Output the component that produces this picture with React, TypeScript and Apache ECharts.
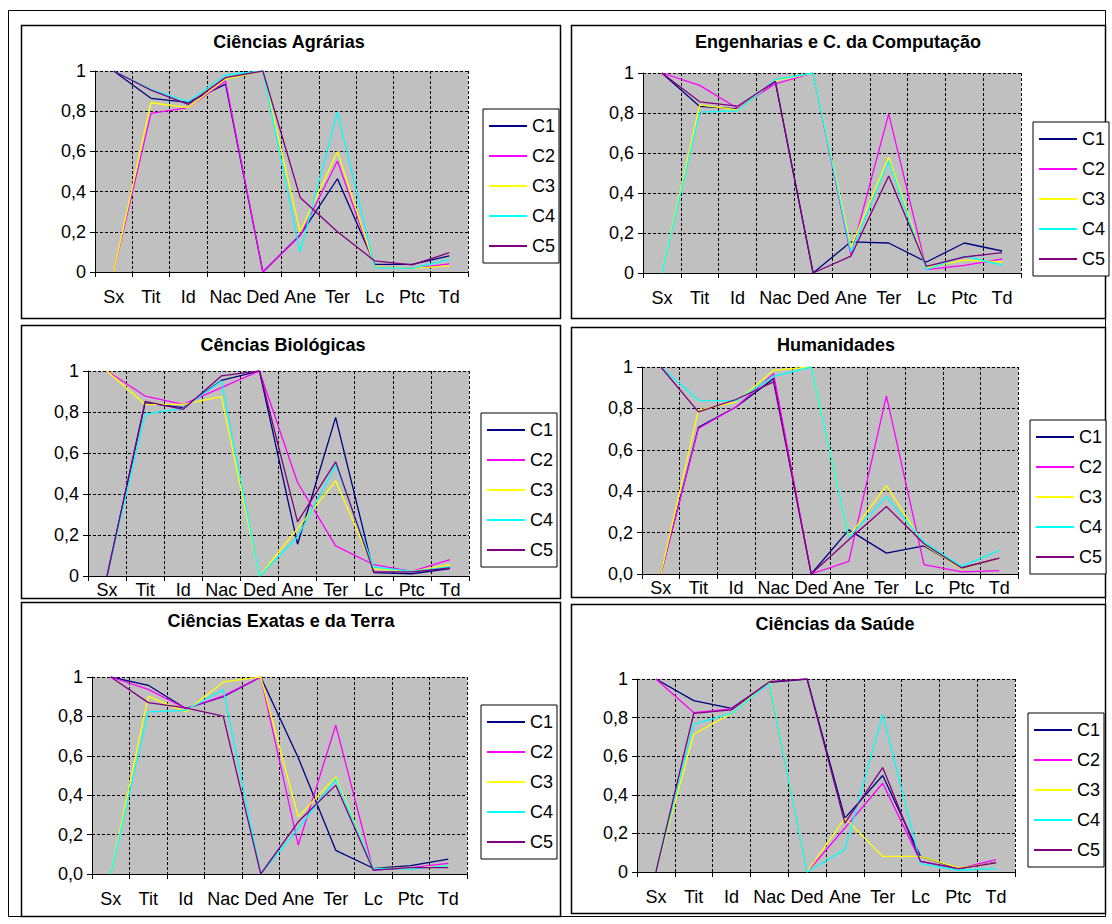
import React, { useEffect, useRef } from "react";
import * as echarts from "echarts";

const categories = ["Sx", "Tit", "Id", "Nac", "Ded", "Ane", "Ter", "Lc", "Ptc", "Td"];
const seriesNames = ["C1", "C2", "C3", "C4", "C5"];
const colors = ["#000080", "#FF00FF", "#FFFF00", "#00FFFF", "#800080"];

const titles = [
  "Ciências Agrárias",
  "Engenharias e C. da Computação",
  "Cências Biológicas",
  "Humanidades",
  "Ciências Exatas e da Terra",
  "Ciências da Saúde",
];
const zeroLabels = ["0", "0", "0", "0,0", "0,0", "0"];

// Ciências Agrárias: C1..C5
const agrarias = [
  [1, 0.864, 0.844, 0.935, 0, 0.184, 0.464, 0.038, 0.038, 0.08],
  [0, 0.789, 0.818, 0.95, 0, 0.18, 0.552, 0.027, 0.018, 0.04],
  [0, 0.842, 0.818, 0.96, 1, 0.2, 0.599, 0.027, 0.018, 0.03],
  [1, 0.909, 0.847, 0.98, 1, 0.1, 0.797, 0.022, 0.018, 0.063],
  [1, 0.905, 0.834, 0.967, 1, 0.371, 0.2, 0.055, 0.035, 0.096],
];
// Engenharias e C. da Computação
const engenharias = [
  [1, 0.833, 0.821, 0.958, 0, 0.156, 0.15, 0.055, 0.15, 0.11],
  [1, 0.938, 0.824, 0.946, 1, 0.089, 0.796, 0.017, 0.038, 0.07],
  [0, 0.841, 0.816, 0.962, 1, 0.13, 0.579, 0.027, 0.064, 0.055],
  [0, 0.804, 0.811, 0.967, 1, 0.105, 0.56, 0.017, 0.084, 0.04],
  [1, 0.856, 0.834, 0.958, 0, 0.084, 0.485, 0.033, 0.08, 0.102],
];
// Cências Biológicas
const biologicas = [
  [0, 0.845, 0.821, 0.954, 1, 0.155, 0.774, 0.016, 0.011, 0.036],
  [1, 0.878, 0.837, 0.919, 1, 0.456, 0.147, 0.055, 0.023, 0.08],
  [1, 0.837, 0.837, 0.875, 0, 0.231, 0.464, 0.036, 0.023, 0.055],
  [0, 0.79, 0.818, 0.951, 0, 0.19, 0.541, 0.044, 0.023, 0.044],
  [0, 0.852, 0.813, 0.976, 1, 0.264, 0.557, 0.02, 0.02, 0.039],
];
// Humanidades
const humanidades = [
  [0, 0.708, 0.807, 0.944, 0, 0.213, 0.101, 0.136, 0.029, 0.077],
  [0, 0.703, 0.807, 0.968, 0, 0.061, 0.86, 0.045, 0.01, 0.016],
  [0, 0.791, 0.831, 0.984, 1, 0.181, 0.427, 0.141, 0.026, 0.077],
  [1, 0.839, 0.836, 0.955, 1, 0.177, 0.374, 0.154, 0.037, 0.114],
  [1, 0.783, 0.843, 0.928, 0, 0.165, 0.326, 0.146, 0.029, 0.077],
];
// Ciências Exatas e da Terra
const exatas = [
  [1, 0.958, 0.84, 0.9, 1, 0.59, 0.12, 0.029, 0.042, 0.076],
  [1, 0.937, 0.84, 0.904, 1, 0.147, 0.755, 0.02, 0.032, 0.054],
  [0, 0.902, 0.823, 0.975, 1, 0.29, 0.493, 0.029, 0.029, 0.042],
  [0, 0.823, 0.831, 0.936, 0, 0.231, 0.481, 0.029, 0.025, 0.042],
  [1, 0.87, 0.843, 0.801, 0, 0.265, 0.451, 0.02, 0.032, 0.032],
];
// Ciências da Saúde
const saude = [
  [1, 0.888, 0.848, 0.983, 1, 0.279, 0.5, 0.081, 0.017, 0.05],
  [1, 0.826, 0.845, 0.983, 0, 0.228, 0.46, 0.055, 0.017, 0.064],
  [0, 0.714, 0.822, 0.99, 0, 0.279, 0.081, 0.081, 0.021, 0.047],
  [0, 0.766, 0.822, 0.978, 0, 0.116, 0.817, 0.043, 0.009, 0.017],
  [0, 0.822, 0.84, 0.986, 1, 0.253, 0.541, 0.055, 0.017, 0.047],
];

const panelData = [agrarias, engenharias, biologicas, humanidades, exatas, saude];

// layout (pixels)
const gridLayout = [
  [95, 71, 373, 201],
  [643, 73, 378, 200],
  [88, 371, 381, 205],
  [642, 367, 376, 207],
  [92, 677, 375, 197],
  [637, 679, 378, 193],
];
const xLabelMargin = [16, 16, 5, 5, 16, 16];
const legendLayout = [
  [483, 109],
  [1033, 122],
  [481, 413],
  [1030, 420],
  [481, 705],
  [1028, 713],
];
const titleLayout = [
  [289, 42],
  [838, 42],
  [283, 345],
  [836, 345],
  [281, 621],
  [835, 624],
];
const panelBoxes = [
  [21, 25, 539, 293],
  [571, 25, 534, 293],
  [21, 325, 539, 273],
  [571, 327, 534, 270],
  [21, 602, 539, 314],
  [571, 604, 534, 309],
];

const FONT = "'Liberation Sans', Arial, Helvetica, sans-serif";
const FS = 18;

export default function App() {
  const ref = useRef<HTMLDivElement>(null);
  useEffect(() => {
    if (!ref.current) return;
    const chart = echarts.init(ref.current, undefined, { renderer: "svg" });
    const dash = [3, 2];
    const grid = gridLayout.map((g) => ({
      left: g[0],
      top: g[1],
      width: g[2],
      height: g[3],
      show: true,
      backgroundColor: "#C0C0C0",
      borderWidth: 0,
    }));
    const xAxis = gridLayout.map((_, i) => ({
      type: "category",
      gridIndex: i,
      data: categories,
      boundaryGap: true,
      axisLine: { show: true, lineStyle: { color: "#000", width: 1 } },
      axisTick: { show: true, length: 5, lineStyle: { color: "#000" } },
      axisLabel: { interval: 0, color: "#000", fontSize: FS, fontFamily: FONT, margin: xLabelMargin[i] },
      splitLine: { show: true, interval: 0, lineStyle: { color: "#000", type: dash, width: 1 } },
    }));
    const yAxis = gridLayout.map((_, i) => ({
      type: "value",
      gridIndex: i,
      min: 0,
      max: 1,
      interval: 0.2,
      axisLine: { show: true, lineStyle: { color: "#000", width: 1 } },
      axisTick: { show: true, length: 5, lineStyle: { color: "#000" } },
      axisLabel: {
        color: "#000",
        fontSize: FS,
        fontFamily: FONT,
        margin: 9,
        formatter: (v: number) => {
          if (Math.abs(v) < 1e-9) return zeroLabels[i];
          if (Math.abs(v - 1) < 1e-9) return "1";
          return v.toFixed(1).replace(".", ",");
        },
      },
      splitLine: { show: true, lineStyle: { color: "#000", type: dash, width: 1 } },
    }));
    const series: any[] = [];
    panelData.forEach((panel, i) => {
      panel.forEach((vals, c) => {
        series.push({
          type: "line",
          name: seriesNames[c],
          xAxisIndex: i,
          yAxisIndex: i,
          data: vals,
          symbol: "none",
          showSymbol: false,
          silent: true,
          lineStyle: { color: colors[c], width: 1.3 },
          itemStyle: { color: colors[c] },
        });
      });
    });
    const legend = legendLayout.map((l) => ({
      data: seriesNames,
      left: l[0],
      top: l[1],
      orient: "vertical",
      icon: "rect",
      itemWidth: 38,
      itemHeight: 2,
      itemGap: 12,
      padding: [8, 4, 8, 6],
      borderColor: "#000",
      borderWidth: 1,
      backgroundColor: "#fff",
      selectedMode: false,
      textStyle: { fontSize: FS, color: "#000", fontFamily: FONT, lineHeight: 16, padding: [0, 0, 0, 0] },
    }));
    const graphic: any[] = [
      {
        type: "rect",
        shape: { x: 8.5, y: 10.5, width: 1097, height: 906 },
        style: { fill: "none", stroke: "#000", lineWidth: 1 },
        silent: true,
      },
    ];
    panelBoxes.forEach((b) => {
      graphic.push({
        type: "rect",
        shape: { x: b[0] + 0.5, y: b[1] + 0.5, width: b[2], height: b[3] },
        style: { fill: "none", stroke: "#000", lineWidth: 1.5 },
        silent: true,
      });
    });
    titles.forEach((t, i) => {
      graphic.push({
        type: "text",
        x: titleLayout[i][0],
        y: titleLayout[i][1],
        style: {
          text: t,
          fill: "#000",
          font: `bold ${FS}px ${FONT}`,
          fontSize: FS,
          fontWeight: "bold",
          fontFamily: FONT,
          align: "center",
          verticalAlign: "middle",
          textAlign: "center",
          textVerticalAlign: "middle",
        },
        silent: true,
      });
    });
    chart.setOption({
      animation: false,
      backgroundColor: "#fff",
      grid,
      xAxis,
      yAxis,
      series,
      legend,
      graphic,
    });
    return () => chart.dispose();
  }, []);
  return (
    <div
      ref={ref}
      style={{ position: "absolute", left: 0, top: 0, width: 1112, height: 924, background: "#fff" }}
    />
  );
}
